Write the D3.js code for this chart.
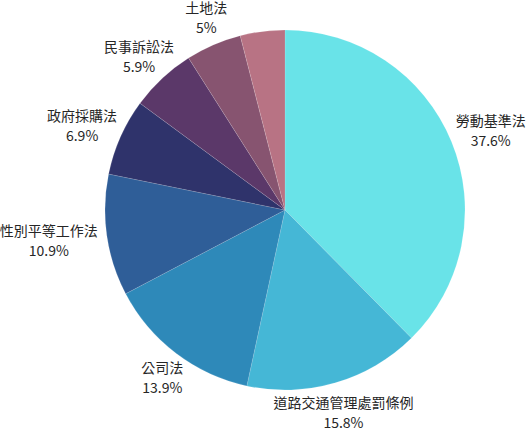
<!DOCTYPE html>
<html>
<head>
<meta charset="utf-8">
<script src="https://cdn.jsdelivr.net/npm/d3@7"></script>
<style>
  body { margin: 0; background: #fff; }
  text { font-family: "Noto Sans CJK TC", "Noto Sans", sans-serif; font-size: 14px; fill: #262626; }
</style>
</head>
<body>
<div id="chart"></div>
<script>
const laws = ['勞動基準法', '道路交通管理處罰條例', '公司法', '性別平等工作法', '政府採購法', '民事訴訟法', '土地法', '其他']
const shares = [37.6, 15.8, 13.9, 10.9, 6.9, 5.9, 5, 4.0]
const showLabel = [true, true, true, true, true, true, true, false]
const colors = ['#69e3e8', '#45b7d6', '#2e89b9', '#2f5e98', '#2f336b', '#5b3869', '#875470', '#b87384']

const width = 528
const height = 430
const cx = 285
const cy = 210
const radius = 180

const svg = d3.select('#chart')
  .append('svg')
    .attr('width', width)
    .attr('height', height)

const data = laws.map((name, i) => ({ name, value: shares[i], color: colors[i], label: showLabel[i] }))

const pie = d3.pie()
  .sort(null)
  .value(d => d.value)

const arcs = pie(data)

const arc = d3.arc()
  .innerRadius(0)
  .outerRadius(radius)

const g = svg.append('g')
  .attr('transform', `translate(${cx},${cy})`)

g.selectAll('path')
  .data(arcs)
  .enter().append('path')
    .attr('d', arc)
    .attr('fill', d => d.data.color)
    .attr('stroke', 'rgba(255,255,255,0.25)')
    .attr('stroke-width', 0.5)

// labels: push outward from just beyond the edge by half the box size
const labelR = 190
const labels = g.selectAll('g.label')
  .data(arcs.filter(d => d.data.label))
  .enter().append('g')
    .attr('class', 'label')

labels.append('text')
  .attr('text-anchor', 'middle')
  .attr('y', -3)
  .text(d => d.data.name)

labels.append('text')
  .attr('text-anchor', 'middle')
  .attr('y', 17)
  .text(d => `${d.data.value}%`)

labels.attr('transform', function (d) {
  const box = this.getBBox()
  const a = (d.startAngle + d.endAngle) / 2
  const sx = Math.sin(a)
  const sy = -Math.cos(a)
  const x = labelR * sx + sx * box.width / 2 * Math.abs(sx)
  const y = Math.max(labelR * sy + sy * box.height / 2, -196)
  return `translate(${x},${y - 1})`
})
</script>
</body>
</html>
